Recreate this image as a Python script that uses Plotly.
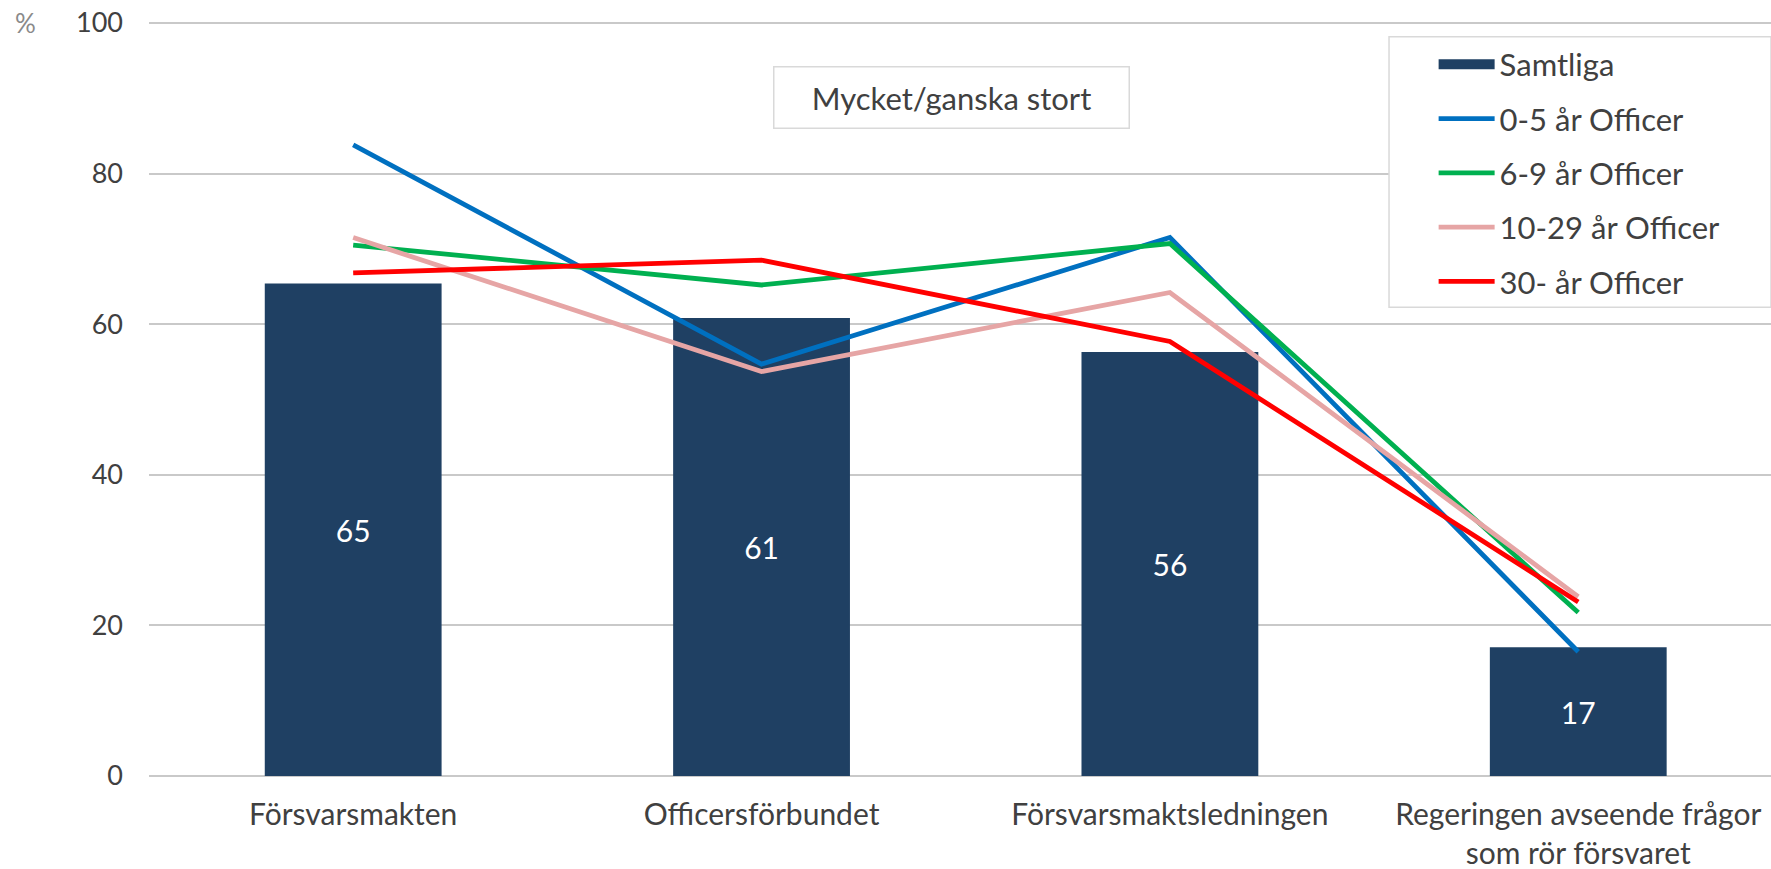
import plotly.graph_objects as go

categories = ["Försvarsmakten", "Officersförbundet", "Försvarsmaktsledningen",
              "Regeringen avseende frågor<br>som rör försvaret"]
samtliga = [65.4, 60.8, 56.3, 17.1]
officer_0_5 = [83.8, 54.7, 71.5, 16.5]
officer_6_9 = [70.5, 65.2, 70.7, 21.7]
officer_10_29 = [71.5, 53.7, 64.2, 23.8]
officer_30 = [66.8, 68.5, 57.7, 23.1]
y_ticks = [0, 20, 40, 60, 80, 100]

FONT = "Lato"
TXT = "#404040"
BAR = "#1F4063"

fig = go.Figure()
fig.add_trace(go.Bar(
    x=categories, y=samtliga, name="Samtliga", width=0.433,
    marker=dict(color=BAR, line=dict(width=0)),
    texttemplate="%{y:.0f}", textposition="inside", insidetextanchor="middle",
    textfont=dict(color="white", size=30, family=FONT),
    showlegend=False,
))
# legend swatch for the bar series (wide rectangle like the original)
fig.add_trace(go.Scatter(
    x=[None], y=[None], name="Samtliga", mode="lines",
    line=dict(color=BAR, width=20), legendgroup="a",
))
line_series = [
    ("0-5 år Officer", officer_0_5, "#0070C0"),
    ("6-9 år Officer", officer_6_9, "#00B050"),
    ("10-29 år Officer", officer_10_29, "#E6A5A5"),
    ("30- år Officer", officer_30, "#FF0000"),
]
for i, (name, vals, col) in enumerate(line_series):
    fig.add_trace(go.Scatter(
        x=categories, y=vals, name=name, mode="lines",
        line=dict(color=col, width=4.8), legendgroup="g%d" % i,
    ))

fig.update_layout(
    width=1771, height=869,
    margin=dict(l=149, r=0, t=21, b=93, autoexpand=False),
    plot_bgcolor="white", paper_bgcolor="white",
    font=dict(family=FONT, color=TXT, size=27),
    showlegend=True,
    legend=dict(
        x=0.792, y=0.978, xanchor="left", yanchor="top",
        bgcolor="rgba(0,0,0,0)", borderwidth=0,
        font=dict(size=31, color=TXT, family=FONT),
        tracegroupgap=11, itemwidth=56,
    ),
    xaxis=dict(
        type="category", range=[-0.5, 3.472],
        showgrid=False, showline=False, ticks="",
        tickfont=dict(size=30, color=TXT),
        ticklabelstandoff=18,
    ),
    yaxis=dict(
        range=[0, 100.25], tickvals=y_ticks,
        showgrid=True, gridcolor="#C9C9C9", gridwidth=2,
        zeroline=True, zerolinecolor="#C9C9C9", zerolinewidth=2,
        showline=False, ticks="",
        tickfont=dict(size=27, color=TXT),
        ticklabelstandoff=25,
    ),
    bargap=0.5,
    shapes=[
        dict(type="rect", xref="paper", yref="paper",
             x0=0.7645, x1=1.0, y0=0.621, y1=0.979,
             fillcolor="white", line=dict(color="#D9D9D9", width=1.5),
             layer="above"),
    ],
    annotations=[
        dict(text="Mycket/ganska stort", xref="paper", yref="paper",
             x=0.4945, y=0.899, xanchor="center", yanchor="middle",
             showarrow=False, font=dict(size=31, color=TXT, family=FONT),
             bgcolor="white", bordercolor="#D9D9D9", borderwidth=1.5,
             width=352, height=58, borderpad=1),
        dict(text="%", xref="paper", yref="paper",
             x=(25 - 149) / 1622, y=0.998, xanchor="center", yanchor="middle",
             showarrow=False, font=dict(size=26, color="#8A8A8A", family=FONT)),
    ],
)
fig.write_html("out.html", config={"displayModeBar": False},
               post_script="document.body.style.margin='0px';")
